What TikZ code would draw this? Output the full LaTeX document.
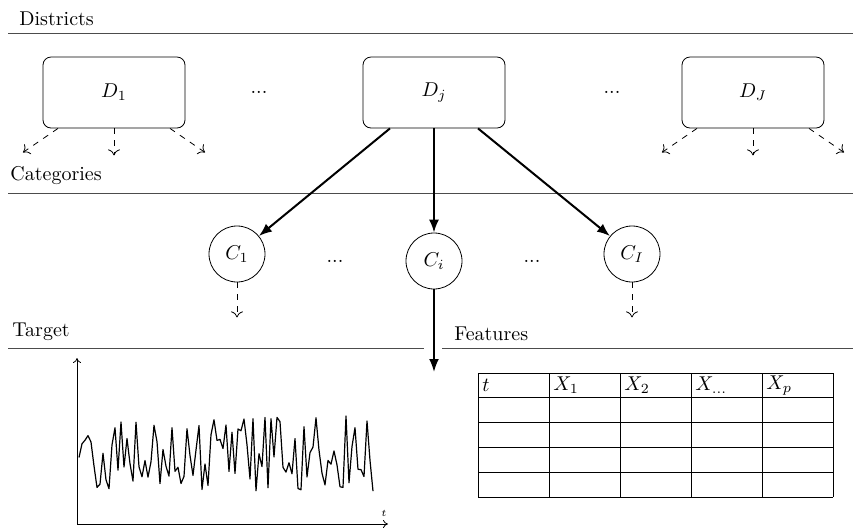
\documentclass[tikz,border=0pt]{standalone}
\usepackage{amssymb}
\usepackage{amsmath}
\usetikzlibrary{positioning,calc,arrows.meta}
\tikzset{
  district/.style={rectangle,rounded corners=4pt,draw,thin,minimum width=71pt,minimum height=35.5pt},
  category/.style={circle,draw,thin,minimum size=28pt,inner sep=0pt},
  layer/.style={draw=black!70,line width=0.5pt},
  title/.style={anchor=base west,inner sep=0pt},
  link/.style={-{Latex[length=6.5pt,width=5pt]},line width=1pt},
  more/.style={-{To[length=3pt,width=6pt]},dashed,thin},
  axis/.style={-{To[length=2.5pt,width=4pt]},thin},
  series/.style={line width=0.6pt,line join=round},
  head/.style={anchor=west,inner sep=2pt},
  dots/.style={inner sep=0pt}
}

\begin{document}
\begin{tikzpicture}[x=0.5pt,y=-0.5pt]
  \useasboundingbox (0,0) rectangle (853,527);

  % layers
  \node [title] (tdis) at (19,25) {Districts};
  \node [title] (tcat) at (10,180) {Categories};
  \node [title] (ttar) at (12,336) {Target};
  \node [title] (tfea) at (454,340) {Features};
  \draw [layer] (8,33) -- (853,33);
  \draw [layer] (8,193) -- (853,193);
  \draw [layer] (8,348) -- (424,348);
  \draw [layer] (442,348) -- (853,348);

  % districts
  \node [district] (d1) at (114,92.5) {$D_1$};
  \node [district] (dj) at (434,92.5) {$D_j$};
  \node [district] (dJ) at (753,92.5) {$D_J$};
  \node [dots] (ddots1) at (259,92) {...};
  \node [dots] (ddots2) at (612,92) {...};

  % categories
  \node [category] (c1) at (237,254) {$C_1$};
  \node [category] (ci) at (434,261) {$C_i$};
  \node [category] (cI) at (632,254) {$C_I$};
  \node [dots] (cdots1) at (335,261) {...};
  \node [dots] (cdots2) at (532,261) {...};

  \draw [link] ($(dj.south)+(-44,0)$) -- (c1);
  \draw [link] (dj.south) -- (ci);
  \draw [link] ($(dj.south)+(44,0)$) -- (cI);

  \foreach \n in {d1,dJ} {
    \coordinate (\n-l) at ($(\n.south)+(-91,24)$);
    \coordinate (\n-m) at ($(\n.south)+(0,27)$);
    \coordinate (\n-r) at ($(\n.south)+(91,24)$);
    \draw [more] ($(\n.south)+(-56,0)$) -- (\n-l);
    \draw [more] (\n.south) -- (\n-m);
    \draw [more] ($(\n.south)+(56,0)$) -- (\n-r);
  }
  \foreach \n in {c1,cI} {
    \coordinate (\n-m) at ($(\n.south)+(0,35)$);
    \draw [more] (\n.south) -- (\n-m);
  }
  \coordinate (split) at (434,372);
  \draw [link] (ci.south) -- (split);

  % target series
  \coordinate (o) at (77,524);
  \coordinate (ytop) at (77,358);
  \coordinate (xend) at (388,524);
  \draw [axis] (o) -- (ytop);
  \draw [axis] (o) -- (xend);
  \node [font=\tiny,inner sep=0pt] (tt) at (384,513) {$t$};
  \pgfmathsetseed{11}
  \draw [series] plot [domain=0:98,samples=99] (\x*3+79,{456+40*rand});

  % features table
  \foreach \c in {0,...,5}
    \draw [thin] (478+\c*71,373) -- (478+\c*71,497);
  \foreach \r in {0,...,5}
    \draw [thin] (478,373+\r*24.8) -- (833,373+\r*24.8);
  \node [head] (h1) at (478,385.4) {$t$};
  \node [head] (h2) at (549,385.4) {$X_1$};
  \node [head] (h3) at (620,385.4) {$X_2$};
  \node [head] (h4) at (691,385.4) {$X_{\dots}$};
  \node [head] (h5) at (762,385.4) {$X_p$};
\end{tikzpicture}
\end{document}
